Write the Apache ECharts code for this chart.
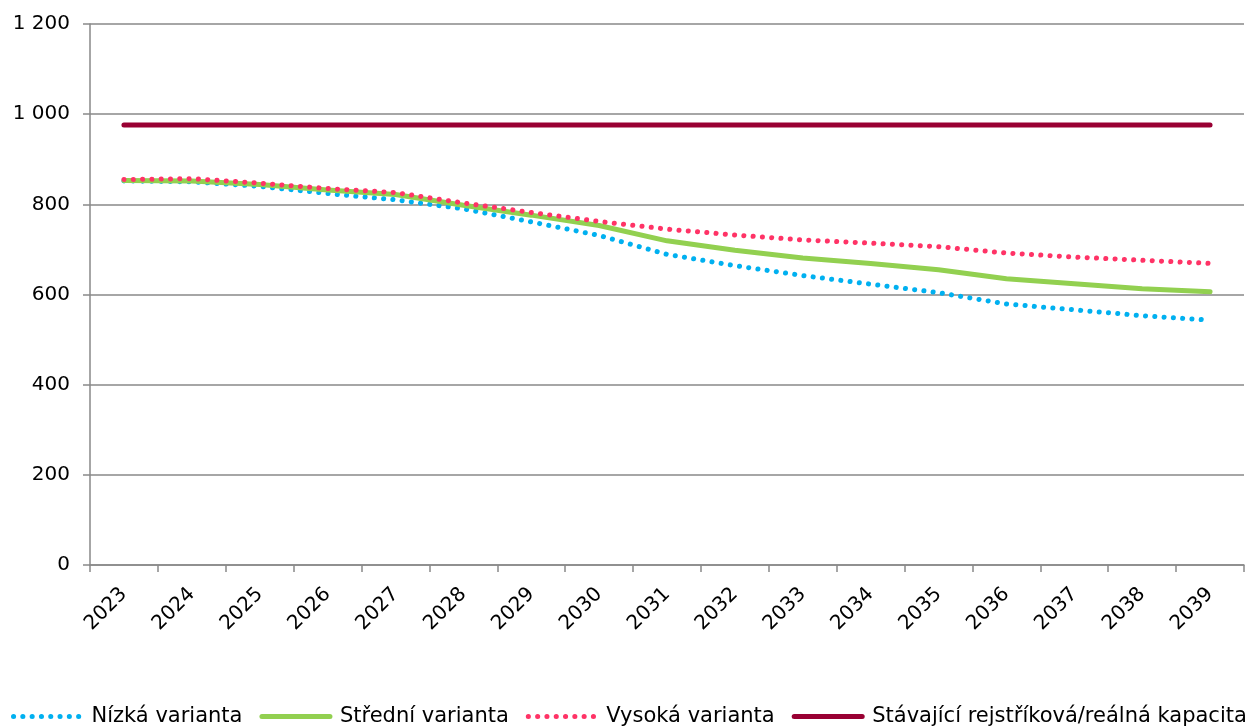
<!DOCTYPE html>
<html>
<head>
<meta charset="utf-8">
<script src="https://cdn.jsdelivr.net/npm/echarts@6/dist/echarts.min.js"></script>
<style>
html,body{margin:0;padding:0;background:#fff;}
#chart{width:1259px;height:727px;}
</style>
</head>
<body>
<div id="chart"></div>
<script>
const years = ['2023','2024','2025','2026','2027','2028','2029','2030','2031','2032','2033','2034','2035','2036','2037','2038','2039'];
const nizka = [852, 850, 840, 824, 810, 790, 761, 731, 689, 664, 642, 623, 604, 579, 566, 553, 543];
const stredni = [853, 852, 844, 832, 822, 798, 776, 753, 719, 698, 681, 669, 655, 635, 624, 613, 606];
const vysoka = [855, 857, 847, 835, 826, 803, 782, 762, 745, 732, 721, 714, 706, 692, 683, 676, 669];
const kapacita = [976, 976, 976, 976, 976, 976, 976, 976, 976, 976, 976, 976, 976, 976, 976, 976, 976];
const seriesNames = ['Nízká varianta', 'Střední varianta', 'Vysoká varianta', 'Stávající rejstříková/reálná kapacita'];
const colors = ['#00B0F0', '#92D050', '#FF3366', '#990033'];
const isDotted = [true, false, true, false];

const FONT = 'DejaVu Sans';
const chart = echarts.init(document.getElementById('chart'), null, {renderer: 'canvas'});
const styleFor = (i) => isDotted[i]
  ? {color: colors[i], width: 5, type: [0.1, 9.2], cap: 'round', opacity: 1}
  : {color: colors[i], width: 5, type: 'solid', cap: 'round', opacity: 1};
const seriesData = [nizka, stredni, vysoka, kapacita];

chart.setOption({
  animation: false,
  backgroundColor: '#ffffff',
  textStyle: {fontFamily: FONT},
  grid: {left: 90, right: 15, top: 24, bottom: 162, containLabel: false},
  legend: {
    data: seriesNames.map((n, i) => ({name: n, lineStyle: styleFor(i), itemStyle: {opacity: 0}})),
    left: 11,
    width: 1248,
    top: 706,
    padding: 0,
    align: 'left',
    itemWidth: 68,
    itemHeight: 12,
    itemGap: 17,
    textStyle: {fontFamily: FONT, fontSize: 21, color: '#000', padding: [0, 0, 0, 5]}
  },
  xAxis: {
    type: 'category',
    data: years,
    boundaryGap: true,
    axisLine: {lineStyle: {color: '#898989', width: 1.5}},
    axisTick: {show: true, length: 7, lineStyle: {color: '#898989', width: 1.5}},
    axisLabel: {rotate: 45, margin: 26, fontFamily: FONT, fontSize: 20, color: '#000', interval: 0}
  },
  yAxis: {
    type: 'value',
    min: 0,
    max: 1200,
    interval: 200,
    axisLine: {show: true, lineStyle: {color: '#898989', width: 1.5}},
    axisTick: {show: true, length: 7, lineStyle: {color: '#898989', width: 1.5}},
    splitLine: {show: true, lineStyle: {color: '#898989', width: 1.5}},
    axisLabel: {
      margin: 20,
      fontFamily: FONT, fontSize: 20, color: '#000',
      formatter: v => String(v).replace(/\B(?=(\d{3})+(?!\d))/g, ' ')
    }
  },
  series: seriesData.map((d, i) => ({
    name: seriesNames[i], type: 'line', data: d, symbol: 'none',
    lineStyle: styleFor(i), itemStyle: {color: colors[i]}
  }))
});
</script>
</body>
</html>
